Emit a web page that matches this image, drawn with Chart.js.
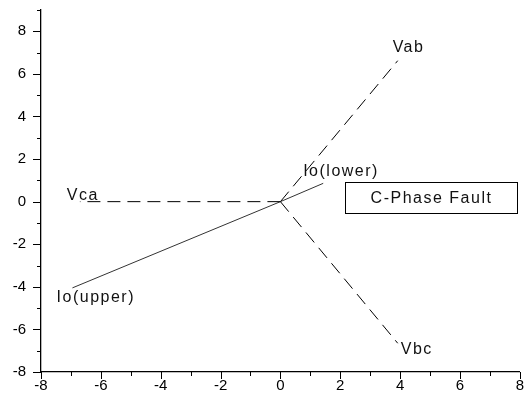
<!DOCTYPE html>
<html><head><meta charset="utf-8">
<script src="https://cdn.jsdelivr.net/npm/chart.js@4.4.0/dist/chart.umd.min.js"></script>
<style>html,body{margin:0;padding:0;background:#fff}#wrap{width:529px;height:401px}</style>
</head><body><div id="wrap"><canvas id="c" width="529" height="401"></canvas></div>
<script>
// ---- data ----
const xTickLabels = [-8,-6,-4,-2,0,2,4,6,8];
const yTickLabels = [-8,-6,-4,-2,0,2,4,6,8];
const vabX = [0, 3.92], vabY = [0, 6.62];
const vbcX = [0, 3.92], vbcY = [0, -6.65];
const vcaX = [0, -6.7], vcaY = [0, 0];
const ioX = [-6.95, 0, 1.43], ioY = [-4.05, 0, 0.86];
const labelTexts = ['Vab','Vbc','Vca','Io(upper)','Io(lower)'];
const labelX = [3.75, 4.02, -7.14, -7.48, 0.76];
const labelY = [7.25, -6.96, 0.28, -4.52, 1.41];
const boxText = 'C-Phase Fault';
const boxX = [2.16, 7.9];
const boxY = [0.94, -0.52];

const pts = (xs, ys) => xs.map((x, i) => ({x: x, y: ys[i]}));
const FONT = '"Liberation Sans", Arial, sans-serif';

const decor = {
  id: 'decor',
  afterDraw(chart) {
    const ctx = chart.ctx, xs = chart.scales.x, ys = chart.scales.y;
    ctx.save();
    ctx.strokeStyle = '#000'; ctx.lineWidth = 1;
    ctx.beginPath();
    for (let v = xs.min; v <= xs.max; v++) {
      const px = Math.round(xs.getPixelForValue(v)) + 0.5;
      const len = (v % 2 === 0) ? 7 : 4;
      ctx.moveTo(px, ys.bottom); ctx.lineTo(px, ys.bottom + len);
    }
    for (let v = ys.min; v <= ys.max; v++) {
      const py = Math.round(ys.getPixelForValue(v)) + 0.5;
      const len = (v % 2 === 0) ? 8 : 4;
      ctx.moveTo(xs.left, py); ctx.lineTo(xs.left - len, py);
    }
    ctx.stroke();
    ctx.fillStyle = '#111';
    ctx.font = '16px ' + FONT;
    try { ctx.letterSpacing = '1.5px'; } catch(e) {}
    ctx.textBaseline = 'middle'; ctx.textAlign = 'left';
    labelTexts.forEach((t, i) => {
      ctx.fillText(t, xs.getPixelForValue(labelX[i]), ys.getPixelForValue(labelY[i]));
    });
    const bx1 = Math.round(xs.getPixelForValue(boxX[0])) + 0.5, bx2 = Math.round(xs.getPixelForValue(boxX[1])) + 0.5;
    const by1 = Math.round(ys.getPixelForValue(boxY[0])) + 0.5, by2 = Math.round(ys.getPixelForValue(boxY[1])) + 0.5;
    ctx.strokeRect(bx1, by1, bx2 - bx1, by2 - by1);
    ctx.textAlign = 'center';
    ctx.fillText(boxText, (bx1 + bx2) / 2, (by1 + by2) / 2 + 1);
    ctx.restore();
  }
};

const axisCommon = {
  type: 'linear',
  grid: {display: false, drawTicks: false},
  border: {display: true, color: '#000', width: 1.3}
};

new Chart(document.getElementById('c'), {
  type: 'scatter',
  data: {
    datasets: [
      {label: 'Vab', data: pts(vabX, vabY), showLine: true, borderColor: '#000', borderWidth: 1, borderDash: [13, 7], pointRadius: 0},
      {label: 'Vbc', data: pts(vbcX, vbcY), showLine: true, borderColor: '#000', borderWidth: 1, borderDash: [13, 7], pointRadius: 0},
      {label: 'Vca', data: pts(vcaX, vcaY), showLine: true, borderColor: '#000', borderWidth: 1, borderDash: [13, 7], pointRadius: 0},
      {label: 'Io', data: pts(ioX, ioY), showLine: true, borderColor: '#333', borderWidth: 1, pointRadius: 0}
    ]
  },
  options: {
    responsive: false,
    animation: false,
    events: [],
    layout: {padding: {top: 10, right: 6, bottom: 0, left: 0}},
    plugins: {legend: {display: false}, tooltip: {enabled: false}},
    scales: {
      x: Object.assign({}, axisCommon, {
        min: -8, max: 8,
        ticks: {stepSize: 1, autoSkip: false, maxRotation: 0, padding: 5, color: '#000',
          font: {family: FONT, size: 15},
          callback: v => xTickLabels.includes(v) ? String(v) : ''},
        afterFit: s => { s.height = 29; }
      }),
      y: Object.assign({}, axisCommon, {
        min: -8, max: 9,
        ticks: {stepSize: 1, autoSkip: false, padding: 15, color: '#000',
          font: {family: FONT, size: 15},
          callback: v => yTickLabels.includes(v) ? String(v) : ''},
        afterFit: s => { s.width = 41; s.paddingTop = 0; s.paddingBottom = 0; }
      })
    }
  },
  plugins: [decor]
});
</script></body></html>
